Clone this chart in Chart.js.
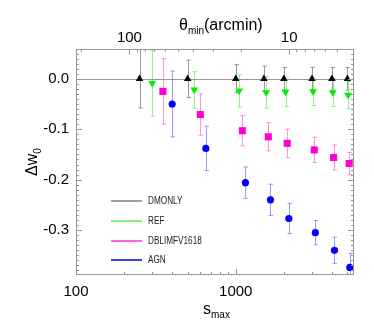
<!DOCTYPE html>
<html>
<head>
<meta charset="utf-8">
<script src="https://cdn.jsdelivr.net/npm/chart.js@4.4.1/dist/chart.umd.min.js"></script>
<style>
  html, body { margin: 0; padding: 0; background: #fff; }
  canvas { display: block; }
</style>
</head>
<body>
<canvas id="chart" width="374" height="324"></canvas>
<script>
// s_max of each point (series are slightly offset in s so the bars don't overlap)
const sMaxDMONLY = [250, 500, 1000, 1500, 2000, 3000, 4000, 5000];
const sMaxREF = [300, 550, 1050, 1550, 2050, 3050, 4050, 5050];
const sMaxDBLIM = [350, 600, 1100, 1600, 2100, 3100, 4100, 5130];
const sMaxAGN = [400, 650, 1150, 1650, 2150, 3150, 4150, 5180];

// delta w0 and its 1-sigma error
const dwDMONLY = [0, 0, 0, 0, 0, 0, 0, 0];
const errDMONLY = [0.058, 0.037, 0.028, 0.025, 0.0225, 0.0225, 0.0225, 0.0225];
const dwREF = [-0.009, -0.022, -0.024, -0.027, -0.026, -0.025, -0.027, -0.032];
const errREF = [0.065, 0.036, 0.032, 0.031, 0.029, 0.028, 0.028, 0.027];
const dwDBLIM = [-0.025, -0.071, -0.103, -0.115, -0.128, -0.141, -0.156, -0.168];
const errDBLIM = [0.065, 0.041, 0.030, 0.028, 0.028, 0.025, 0.025, 0.022];
const dwAGN = [-0.050, -0.138, -0.206, -0.240, -0.277, -0.305, -0.340, -0.374];
const errAGN = [0.065, 0.044, 0.031, 0.031, 0.030, 0.024, 0.026, 0.028];

// axes
const sMin = 100;
const sMax = 5500;
const dwMin = -0.389;
const dwMax = 0.059;
const sTickLabels = [100, 1000];
const dwTickLabels = [0.0, -0.1, -0.2, -0.3];
const thetaTickLabels = [100, 10];
const thetaTimesS = 21600; // theta_min [arcmin] * s_max

const FONT = "'Liberation Sans Narrow', 'Liberation Sans', Arial, sans-serif";
const FRAME = '#999999';

const series = [
  { label: 'DMONLY', x: sMaxDMONLY, y: dwDMONLY, err: errDMONLY, color: '#000000', bar: 'rgba(110,110,110,0.7)', line: '#808080', style: 'triangle', rot: 0, r: 4.3 },
  { label: 'REF', x: sMaxREF, y: dwREF, err: errREF, color: '#00f000', bar: 'rgba(60,230,60,0.55)', line: '#55ee55', style: 'triangle', rot: 180, r: 4.5 },
  { label: 'DBLIMFV1618', x: sMaxDBLIM, y: dwDBLIM, err: errDBLIM, color: '#ff00cc', bar: 'rgba(255,60,200,0.55)', line: '#ff33cc', style: 'rect', rot: 0, r: 5 },
  { label: 'AGN', x: sMaxAGN, y: dwAGN, err: errAGN, color: '#0000ff', bar: 'rgba(60,60,255,0.5)', line: '#0000cc', style: 'circle', rot: 0, r: 3.6 },
];

const datasets = series.map((s) => ({
  label: s.label,
  data: s.x.map((xx, i) => ({ x: xx, y: s.y[i] })),
  errors: s.err,
  barColor: s.bar,
  lineColor: s.line,
  backgroundColor: s.color,
  borderColor: s.color,
  borderWidth: 0,
  pointStyle: s.style,
  rotation: s.rot,
  pointRadius: s.r,
  showLine: false,
}));

// zero line and error bars, under the markers
const underPlugin = {
  id: 'under',
  beforeDatasetsDraw(chart) {
    const { ctx, chartArea: ca, scales } = chart;
    ctx.save();
    ctx.beginPath();
    ctx.rect(ca.left, ca.top, ca.right - ca.left, ca.bottom - ca.top);
    ctx.clip();
    ctx.lineWidth = 1;
    const y0 = Math.round(scales.y.getPixelForValue(0)) + 0.5;
    ctx.strokeStyle = FRAME;
    ctx.beginPath();
    ctx.moveTo(ca.left, y0);
    ctx.lineTo(ca.right, y0);
    ctx.stroke();
    for (const ds of chart.data.datasets) {
      ctx.strokeStyle = ds.barColor;
      ds.data.forEach((p, i) => {
        const px = Math.round(scales.x.getPixelForValue(p.x)) + 0.5;
        const top = scales.y.getPixelForValue(p.y + ds.errors[i]);
        const bot = scales.y.getPixelForValue(p.y - ds.errors[i]);
        ctx.beginPath();
        ctx.moveTo(px, top);
        ctx.lineTo(px, bot);
        ctx.moveTo(px - 2, top);
        ctx.lineTo(px + 2.5, top);
        ctx.moveTo(px - 2, bot);
        ctx.lineTo(px + 2.5, bot);
        ctx.stroke();
      });
    }
    ctx.restore();
  },
};

// frame, inward ticks, axis titles and legend
const overPlugin = {
  id: 'over',
  afterDraw(chart) {
    const { ctx, chartArea: ca, scales } = chart;
    ctx.save();
    ctx.strokeStyle = FRAME;
    ctx.lineWidth = 1;
    ctx.strokeRect(ca.left + 0.5, ca.top + 0.5, ca.right - ca.left - 1, ca.bottom - ca.top - 1);

    ctx.beginPath();
    // bottom: s_max
    for (let dec = 100; dec < sMax; dec *= 10) {
      for (let k = 1; k < 10; k++) {
        const v = dec * k;
        if (v <= sMin || v >= sMax) continue;
        const px = Math.round(scales.x.getPixelForValue(v)) + 0.5;
        const len = k === 1 ? 6 : 3;
        ctx.moveTo(px, ca.bottom);
        ctx.lineTo(px, ca.bottom - len);
      }
    }
    // top: theta_min
    const tMin = thetaTimesS / sMax;
    const tMax = thetaTimesS / sMin;
    for (let dec = 1; dec < tMax; dec *= 10) {
      for (let k = 1; k < 10; k++) {
        const v = dec * k;
        if (v <= tMin || v >= tMax) continue;
        const px = Math.round(scales.xTop.getPixelForValue(v)) + 0.5;
        const len = k === 1 ? 6 : 3;
        ctx.moveTo(px, ca.top);
        ctx.lineTo(px, ca.top + len);
      }
    }
    // left and right: delta w0
    for (let i = Math.ceil(dwMin * 100); i <= Math.floor(dwMax * 100); i++) {
      const py = Math.round(scales.y.getPixelForValue(i / 100)) + 0.5;
      const len = i % 10 === 0 ? 6 : 3;
      ctx.moveTo(ca.left, py);
      ctx.lineTo(ca.left + len, py);
      ctx.moveTo(ca.right, py);
      ctx.lineTo(ca.right - len, py);
    }
    ctx.stroke();

    // axis titles
    ctx.fillStyle = '#000';
    ctx.textBaseline = 'alphabetic';
    ctx.textAlign = 'left';
    const big = `16px ${FONT}`;
    const small = `10px ${FONT}`;
    function sub(parts, x, y) {
      let cx = x;
      for (const [text, isSub] of parts) {
        ctx.font = isSub ? small : big;
        ctx.fillText(text, cx, isSub ? y + 4 : y);
        cx += ctx.measureText(text).width;
      }
    }
    sub([['s', false], ['max', true]], 203, 314);
    sub([['θ', false], ['min', true], ['(arcmin)', false]], 179, 30);
    ctx.save();
    ctx.translate(37, 176);
    ctx.rotate(-Math.PI / 2);
    sub([['Δw', false], ['0', true]], 0, 0);
    ctx.restore();

    // legend
    ctx.font = `10px ${FONT}`;
    ctx.textBaseline = 'middle';
    ctx.lineWidth = 1.5;
    chart.data.datasets.forEach((ds, i) => {
      const y = Math.round(ca.top + 152 + i * 19.8);
      ctx.strokeStyle = ds.lineColor;
      ctx.beginPath();
      ctx.moveTo(ca.left + 35, y);
      ctx.lineTo(ca.left + 66, y);
      ctx.stroke();
      ctx.fillStyle = '#222';
      ctx.save();
      ctx.translate(ca.left + 72, y + 0.5);
      ctx.scale(0.82, 1);
      ctx.fillText(ds.label, 0, 0);
      ctx.restore();
    });
    ctx.restore();
  },
};

const tickFont = { family: FONT, size: 15 };

new Chart(document.getElementById('chart'), {
  type: 'scatter',
  data: { datasets },
  plugins: [underPlugin, overPlugin],
  options: {
    responsive: false,
    animation: false,
    layout: { padding: { left: 0, right: 20, top: 0, bottom: 0 } },
    plugins: { legend: { display: false }, tooltip: { enabled: false } },
    scales: {
      x: {
        type: 'logarithmic',
        position: 'bottom',
        min: sMin,
        max: sMax,
        grid: { display: false, drawTicks: false },
        border: { display: false },
        afterBuildTicks: (scale) => { scale.ticks = sTickLabels.map((v) => ({ value: v })); },
        afterFit: (scale) => { scale.height = 49; },
        ticks: { font: tickFont, color: '#000', padding: 8, maxRotation: 0, autoSkip: false, callback: (v) => String(v) },
      },
      xTop: {
        type: 'logarithmic',
        axis: 'x',
        position: 'top',
        reverse: true,
        min: thetaTimesS / sMax,
        max: thetaTimesS / sMin,
        grid: { display: false, drawTicks: false },
        border: { display: false },
        afterBuildTicks: (scale) => { scale.ticks = thetaTickLabels.map((v) => ({ value: v })); },
        afterFit: (scale) => { scale.height = 49; },
        ticks: { font: tickFont, color: '#000', padding: 2, maxRotation: 0, autoSkip: false, callback: (v) => String(v) },
      },
      y: {
        type: 'linear',
        min: dwMin,
        max: dwMax,
        grid: { display: false, drawTicks: false },
        border: { display: false },
        afterBuildTicks: (scale) => { scale.ticks = dwTickLabels.map((v) => ({ value: v })); },
        afterFit: (scale) => { scale.width = 76; },
        ticks: { font: tickFont, color: '#000', padding: 7, autoSkip: false, callback: (v) => v.toFixed(1) },
      },
    },
  },
});
</script>
</body>
</html>
